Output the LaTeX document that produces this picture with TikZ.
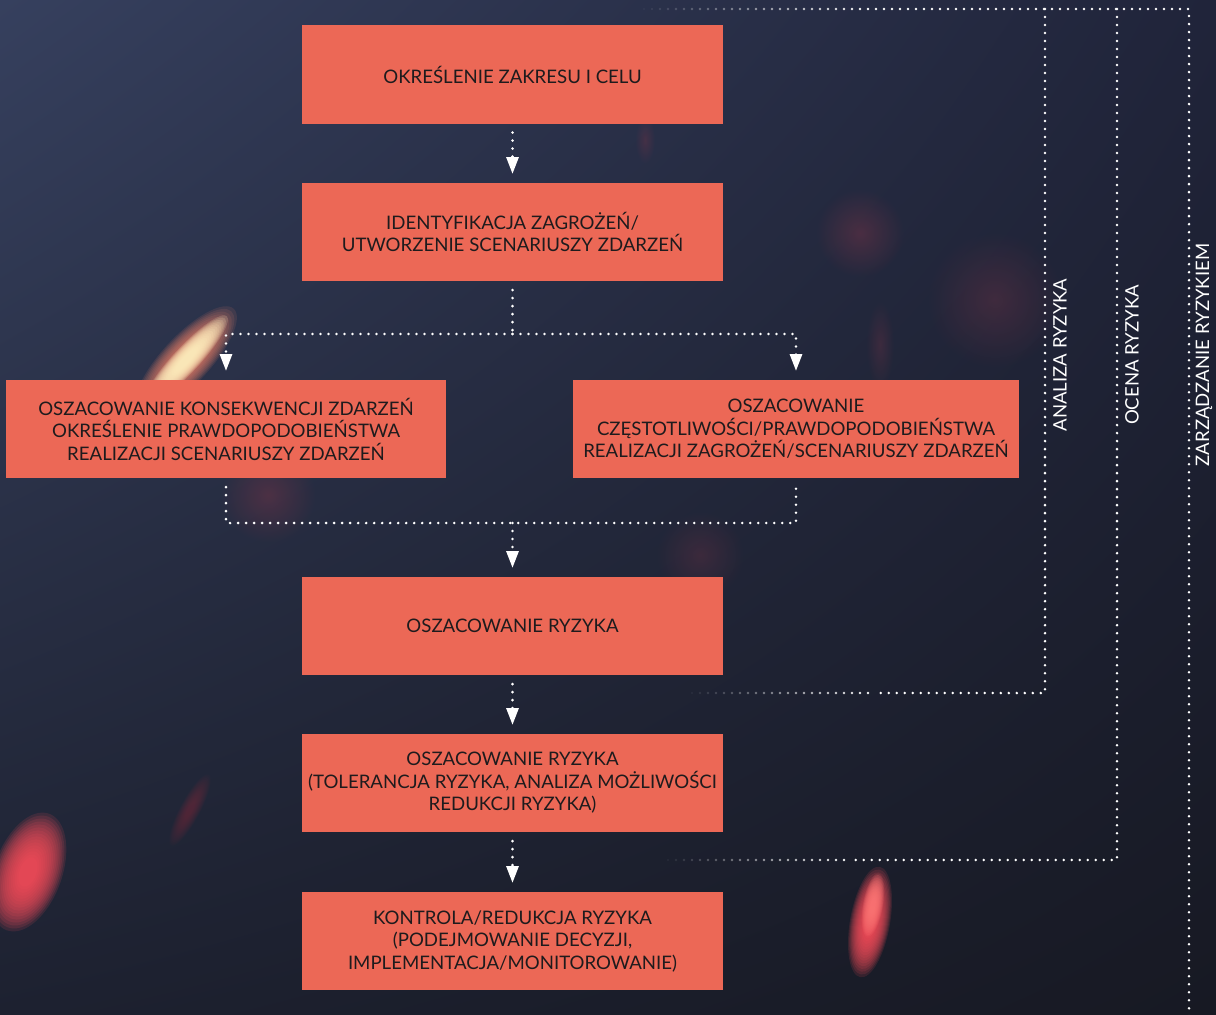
\documentclass[tikz,border=0pt]{standalone}
\usepackage{fontspec}
\setmainfont{Lato}
\usetikzlibrary{positioning,arrows.meta,fadings,shadings}

\definecolor{boxred}{HTML}{EC6856}
\definecolor{boxtext}{HTML}{1E1B1D}
\definecolor{bgA}{HTML}{36405E}
\definecolor{bgB}{HTML}{20243A}
\definecolor{bgC}{HTML}{1D2130}
\definecolor{bgD}{HTML}{171923}
\definecolor{glowred}{HTML}{FF4F5C}
\definecolor{glowpink}{HTML}{FF7A78}
\definecolor{glowcream}{HTML}{FFF0C0}
\definecolor{gloworange}{HTML}{F8846A}
\definecolor{glowdim}{HTML}{7A3548}

\tikzfading[name=glow, inner color=transparent!0, outer color=transparent!100]

% rozmyta plama: środek, kąt, półosie (px), kolor, krycie warstwy
\newcommand{\plama}[6]{%
	\foreach \s in {1.0,0.95,...,0.2} {
		\fill[#5, opacity=#6, rotate around={#2:#1}] #1
			ellipse ({#3*\s*0.025cm} and {#4*\s*0.025cm});
	}%
}

\begin{document}
\begin{tikzpicture}[
	x=0.025cm, y=-0.025cm, % 1 jednostka = 1 piksel
	etap/.style={
		fill=boxred, text=boxtext,
		minimum width=10.525cm, minimum height=2.45cm,
		inner sep=0pt, align=center,
		font=\fontsize{13.25}{16}\selectfont
	},
	kropki/.style={
		white, line width=0.07cm, line cap=round,
		dash pattern=on 0pt off 0.2cm
	},
	strzalka/.style={
		kropki, -{Triangle[length=0.42cm, width=0.3cm]},
		shorten >=0.22cm
	},
	zakres/.style={
		white, rotate=90,
		font=\fontsize{13.2}{16}\selectfont
	}
	]
	\useasboundingbox (0,0) rectangle (1216,1014);
	
	% Tło
	\shade[upper left=bgA, upper right=bgB, lower left=bgC, lower right=bgD]
		(0,0) rectangle (1216,1014);
	\fill[glowdim, path fading=glow, opacity=0.45] (860,233) circle (1.1cm);
	\fill[glowdim, path fading=glow, opacity=0.35] (995,300) circle (1.7cm);
	\fill[glowdim, path fading=glow, opacity=0.45] (268,495) circle (1.2cm);
	\fill[glowdim, path fading=glow, opacity=0.3] (700,555) circle (1.1cm);
	\fill[glowdim, path fading=glow, opacity=0.3] (880,345) ellipse (0.35cm and 1.1cm);
	\fill[glowdim, path fading=glow, opacity=0.35] (645,140) ellipse (0.25cm and 0.6cm);
	\plama{(190,810)}{62}{40}{10}{glowdim}{0.05}
	\plama{(186,360)}{47}{70}{24}{gloworange}{0.11}
	\plama{(186,360)}{47}{60}{13}{glowcream}{0.16}
	\plama{(28,872)}{70}{62}{34}{glowred}{0.13}
	\plama{(870,922)}{80}{56}{20}{glowred}{0.13}
	\plama{(873,905)}{80}{32}{10}{glowpink}{0.12}
	
	% Etapy
	\node[etap] (cel) at (512.5,74.5) {OKREŚLENIE ZAKRESU I CELU};
	\node[etap] (ident) at (512.5,232) {IDENTYFIKACJA ZAGROŻEŃ/\\UTWORZENIE SCENARIUSZY ZDARZEŃ};
	\node[etap, minimum width=11cm] (konsek) at (226,429) {OSZACOWANIE KONSEKWENCJI ZDARZEŃ\\OKREŚLENIE PRAWDOPODOBIEŃSTWA\\REALIZACJI SCENARIUSZY ZDARZEŃ};
	\node[etap, minimum width=11.15cm] (czest) at (796,429) {OSZACOWANIE\\CZĘSTOTLIWOŚCI/PRAWDOPODOBIEŃSTWA\\REALIZACJI ZAGROŻEŃ/SCENARIUSZY ZDARZEŃ};
	\node[etap] (ryzyko) at (512.5,626) {OSZACOWANIE RYZYKA};
	\node[etap] (ocena) at (512.5,783) {OSZACOWANIE RYZYKA\\(TOLERANCJA RYZYKA, ANALIZA MOŻLIWOŚCI\\REDUKCJI RYZYKA)};
	\node[etap] (kontrola) at (512.5,941) {KONTROLA/REDUKCJA RYZYKA\\(PODEJMOWANIE DECYZJI,\\IMPLEMENTACJA/MONITOROWANIE)};
	
	% Przejścia
	\coordinate (rozdz) at (512.5,334);
	\coordinate (zlacz) at (512.5,523);
	\draw[strzalka, shorten <=0.22cm] (cel) -- (ident);
	\draw[kropki, shorten <=0.22cm] (ident) -- (rozdz);
	\draw[strzalka] (rozdz) -| (konsek);
	\draw[strzalka] (rozdz) -| (czest);
	\draw[kropki, shorten <=0.22cm, shorten >=0.22cm] (konsek) |- (zlacz) -| (czest);
	\draw[strzalka] (zlacz) -- (ryzyko);
	\draw[strzalka, shorten <=0.22cm] (ryzyko) -- (ocena);
	\draw[strzalka, shorten <=0.22cm] (ocena) -- (kontrola);
	
	% Zakresy po prawej
	\coordinate (gora) at (868,9);
	\coordinate (zA) at (1045,9);
	\coordinate (zB) at (1117,9);
	\coordinate (zC) at (1189,9);
	\draw[kropki] (gora) -- (zC) -- (1189,1030);
	\draw[kropki] (zA) -- (1045,693) -- (876,693);
	\draw[kropki] (zB) -- (1117,860) -- (852,860);
	\foreach \k in {0,...,27} {
		\pgfmathsetmacro\op{(\k+1)/29}
		\fill[white, opacity=\op] ({644+8*\k},9) circle (0.035cm);
	}
	\foreach \k in {0,...,22} {
		\pgfmathsetmacro\op{(\k+1)/24}
		\fill[white, opacity=\op] ({692+8*\k},693) circle (0.035cm);
	}
	\foreach \k in {0,...,22} {
		\pgfmathsetmacro\op{(\k+1)/24}
		\fill[white, opacity=\op] ({668+8*\k},860) circle (0.035cm);
	}
	\node[zakres] (analiza) at (1060,355) {ANALIZA RYZYKA};
	\node[zakres] (ocenaR) at (1132,355) {OCENA RYZYKA};
	\node[zakres] (zarzadz) at (1204,355) {ZARZĄDZANIE RYZYKIEM};
\end{tikzpicture}
\end{document}
